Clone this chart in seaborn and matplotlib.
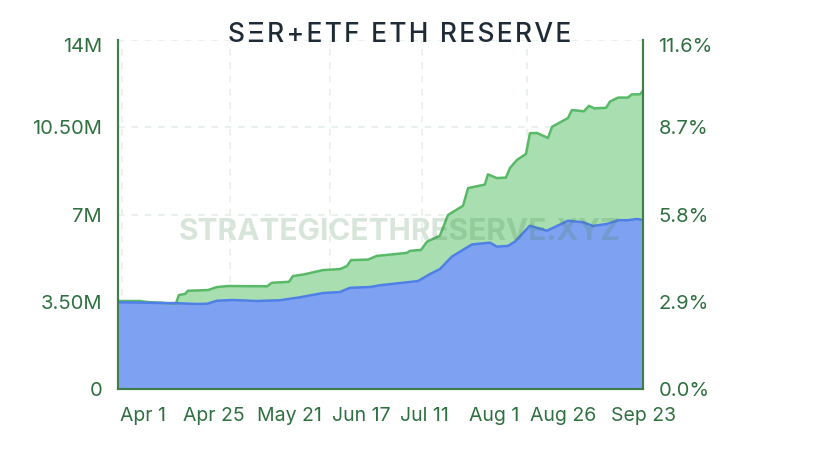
import pandas as pd
import seaborn as sns
from matplotlib import pyplot as plt
from matplotlib.ticker import FuncFormatter
from matplotlib.transforms import ScaledTranslation

# days since Apr 1, values in millions of ETH
total_days = [0, 7.3, 9.7, 19.3, 20.3, 22.3, 23.3, 30, 33, 36.7, 49.7, 51.3, 57, 58.3, 61.7, 68.3, 74, 76.3, 77.7,
              83.3, 86.3, 87.3, 96.3, 97.3, 101, 103, 107.3, 110, 115, 116.7, 122.3, 123.3, 126.3, 129.3, 130.7,
              133, 136, 137.3, 139.7, 143.3, 144.7, 150, 151.3, 155.3, 157, 158.7, 162.7, 164, 166.7, 170, 171.3,
              174, 175]
total_eth = [3.53, 3.53, 3.49, 3.42, 3.77, 3.81, 3.94, 3.97, 4.09, 4.13, 4.12, 4.26, 4.30, 4.53, 4.59, 4.77, 4.81,
             4.93, 5.17, 5.19, 5.34, 5.35, 5.46, 5.54, 5.58, 5.91, 6.15, 6.98, 7.35, 8.06, 8.20, 8.61, 8.46, 8.48,
             8.87, 9.19, 9.43, 10.26, 10.27, 10.07, 10.52, 10.87, 11.19, 11.14, 11.36, 11.26, 11.28, 11.53, 11.69,
             11.69, 11.82, 11.82, 11.97]
etf_days = [0, 19.7, 26.3, 29.7, 33, 38.3, 46.3, 54, 60.7, 68.3, 74, 77.3, 84, 87.3, 94, 100, 104, 107.3, 111.3,
            118, 124, 126.3, 130, 132.3, 137.3, 143, 150, 155, 158.3, 163, 166.7, 170, 173, 175]
etf_eth = [3.48, 3.44, 3.41, 3.42, 3.54, 3.57, 3.53, 3.56, 3.68, 3.85, 3.89, 4.06, 4.09, 4.16, 4.25, 4.33, 4.61,
           4.81, 5.31, 5.80, 5.87, 5.71, 5.74, 5.91, 6.55, 6.35, 6.75, 6.69, 6.54, 6.62, 6.77, 6.77, 6.82, 6.78]

date_ticks = [8.3, 32, 57, 81, 102.3, 125.3, 148.3, 175]
date_labels = ['Apr 1', 'Apr 25', 'May 21', 'Jun 17', 'Jul 11', 'Aug 1', 'Aug 26', 'Sep 23']
grid_days = [1.3, 37.3, 70.7, 101.3, 136.3]
eth_ticks = [0, 3.5, 7, 10.5, 14]
eth_labels = ['0', '3.50M', '7M', '10.50M', '14M']
pct_ticks = [0, 2.9, 5.8, 8.7, 11.6]
title = 'S\u039eR+ETF ETH RESERVE'

axis_green = '#3f7f48'
label_green = '#2f7040'

sns.set_theme(style='white')
plt.rcParams['font.family'] = ['Inter', 'DejaVu Sans']

total_df = pd.DataFrame({'day': total_days, 'eth': total_eth})
etf_df = pd.DataFrame({'day': etf_days, 'eth': etf_eth})

fig = plt.figure(figsize=(8.16, 4.5), dpi=100)
ax = fig.add_axes([118 / 816, 1 - 389 / 450, 525 / 816, 349 / 450])

ax.fill_between(total_df['day'], total_df['eth'], color='#a9deb0', lw=0, zorder=2)
ax.fill_between(etf_df['day'], etf_df['eth'], color='#7ea1f1', lw=0, zorder=3)
sns.lineplot(data=total_df, x='day', y='eth', color='#58b967', lw=1.8, ax=ax, zorder=4)
sns.lineplot(data=etf_df, x='day', y='eth', color='#4f80e6', lw=1.8, ax=ax, zorder=5)

ax.set_xlim(0, 175)
ax.set_ylim(0, 14)
ax.set_xlabel('')
ax.set_ylabel('')
ax.set_xticks(date_ticks, date_labels)
ax.set_xticks(grid_days, minor=True)
ax.set_yticks(eth_ticks, eth_labels)
ax.tick_params(axis='x', which='major', length=0, pad=13, labelsize=14, labelcolor=label_green)
ax.tick_params(axis='x', which='minor', length=0)
ax.tick_params(axis='y', length=0, pad=11.5, labelsize=14.5, labelcolor=label_green)
ax.grid(True, axis='x', which='minor', color='#e6f1e8', lw=1.2, ls=(0, (4, 4)), zorder=1)
ax.grid(True, axis='y', which='major', color='#e6f1e8', lw=1.2, ls=(0, (4, 4)), zorder=1)
ax.set_axisbelow(True)

right = ax.twinx()
right.set_ylim(0, 11.6)
right.set_yticks(pct_ticks)
right.yaxis.set_major_formatter(FuncFormatter(lambda v, pos: '%.1f%%' % v))
right.tick_params(axis='y', length=0, pad=11, labelsize=14.5, labelcolor=label_green)
right.grid(False)

# top labels sit a little below the axis end
down = ScaledTranslation(0, -5 / 100, fig.dpi_scale_trans)
for lab in [ax.get_yticklabels()[-1], right.get_yticklabels()[-1]]:
    lab.set_transform(lab.get_transform() + down)

for a in [ax, right]:
    for side in ['left', 'right', 'bottom']:
        a.spines[side].set_visible(True)
        a.spines[side].set_color(axis_green)
        a.spines[side].set_linewidth(1.5)
    a.spines['top'].set_visible(False)

ax.text(400 / 816, 1 - 232 / 450, 'STRATEGICETHRESERVE.XYZ', transform=fig.transFigure, ha='center', va='center',
        fontsize=21.5, fontweight='bold', color='#3f7f48', alpha=0.2, zorder=6)
# letter spacing through hair spaces
fig.text(400 / 816, 1 - 35 / 450, '\u200a'.join(title), ha='center', va='center',
         fontsize=19, fontweight='medium', color='#1f2a37')

fig.savefig('out.png', dpi=100)
